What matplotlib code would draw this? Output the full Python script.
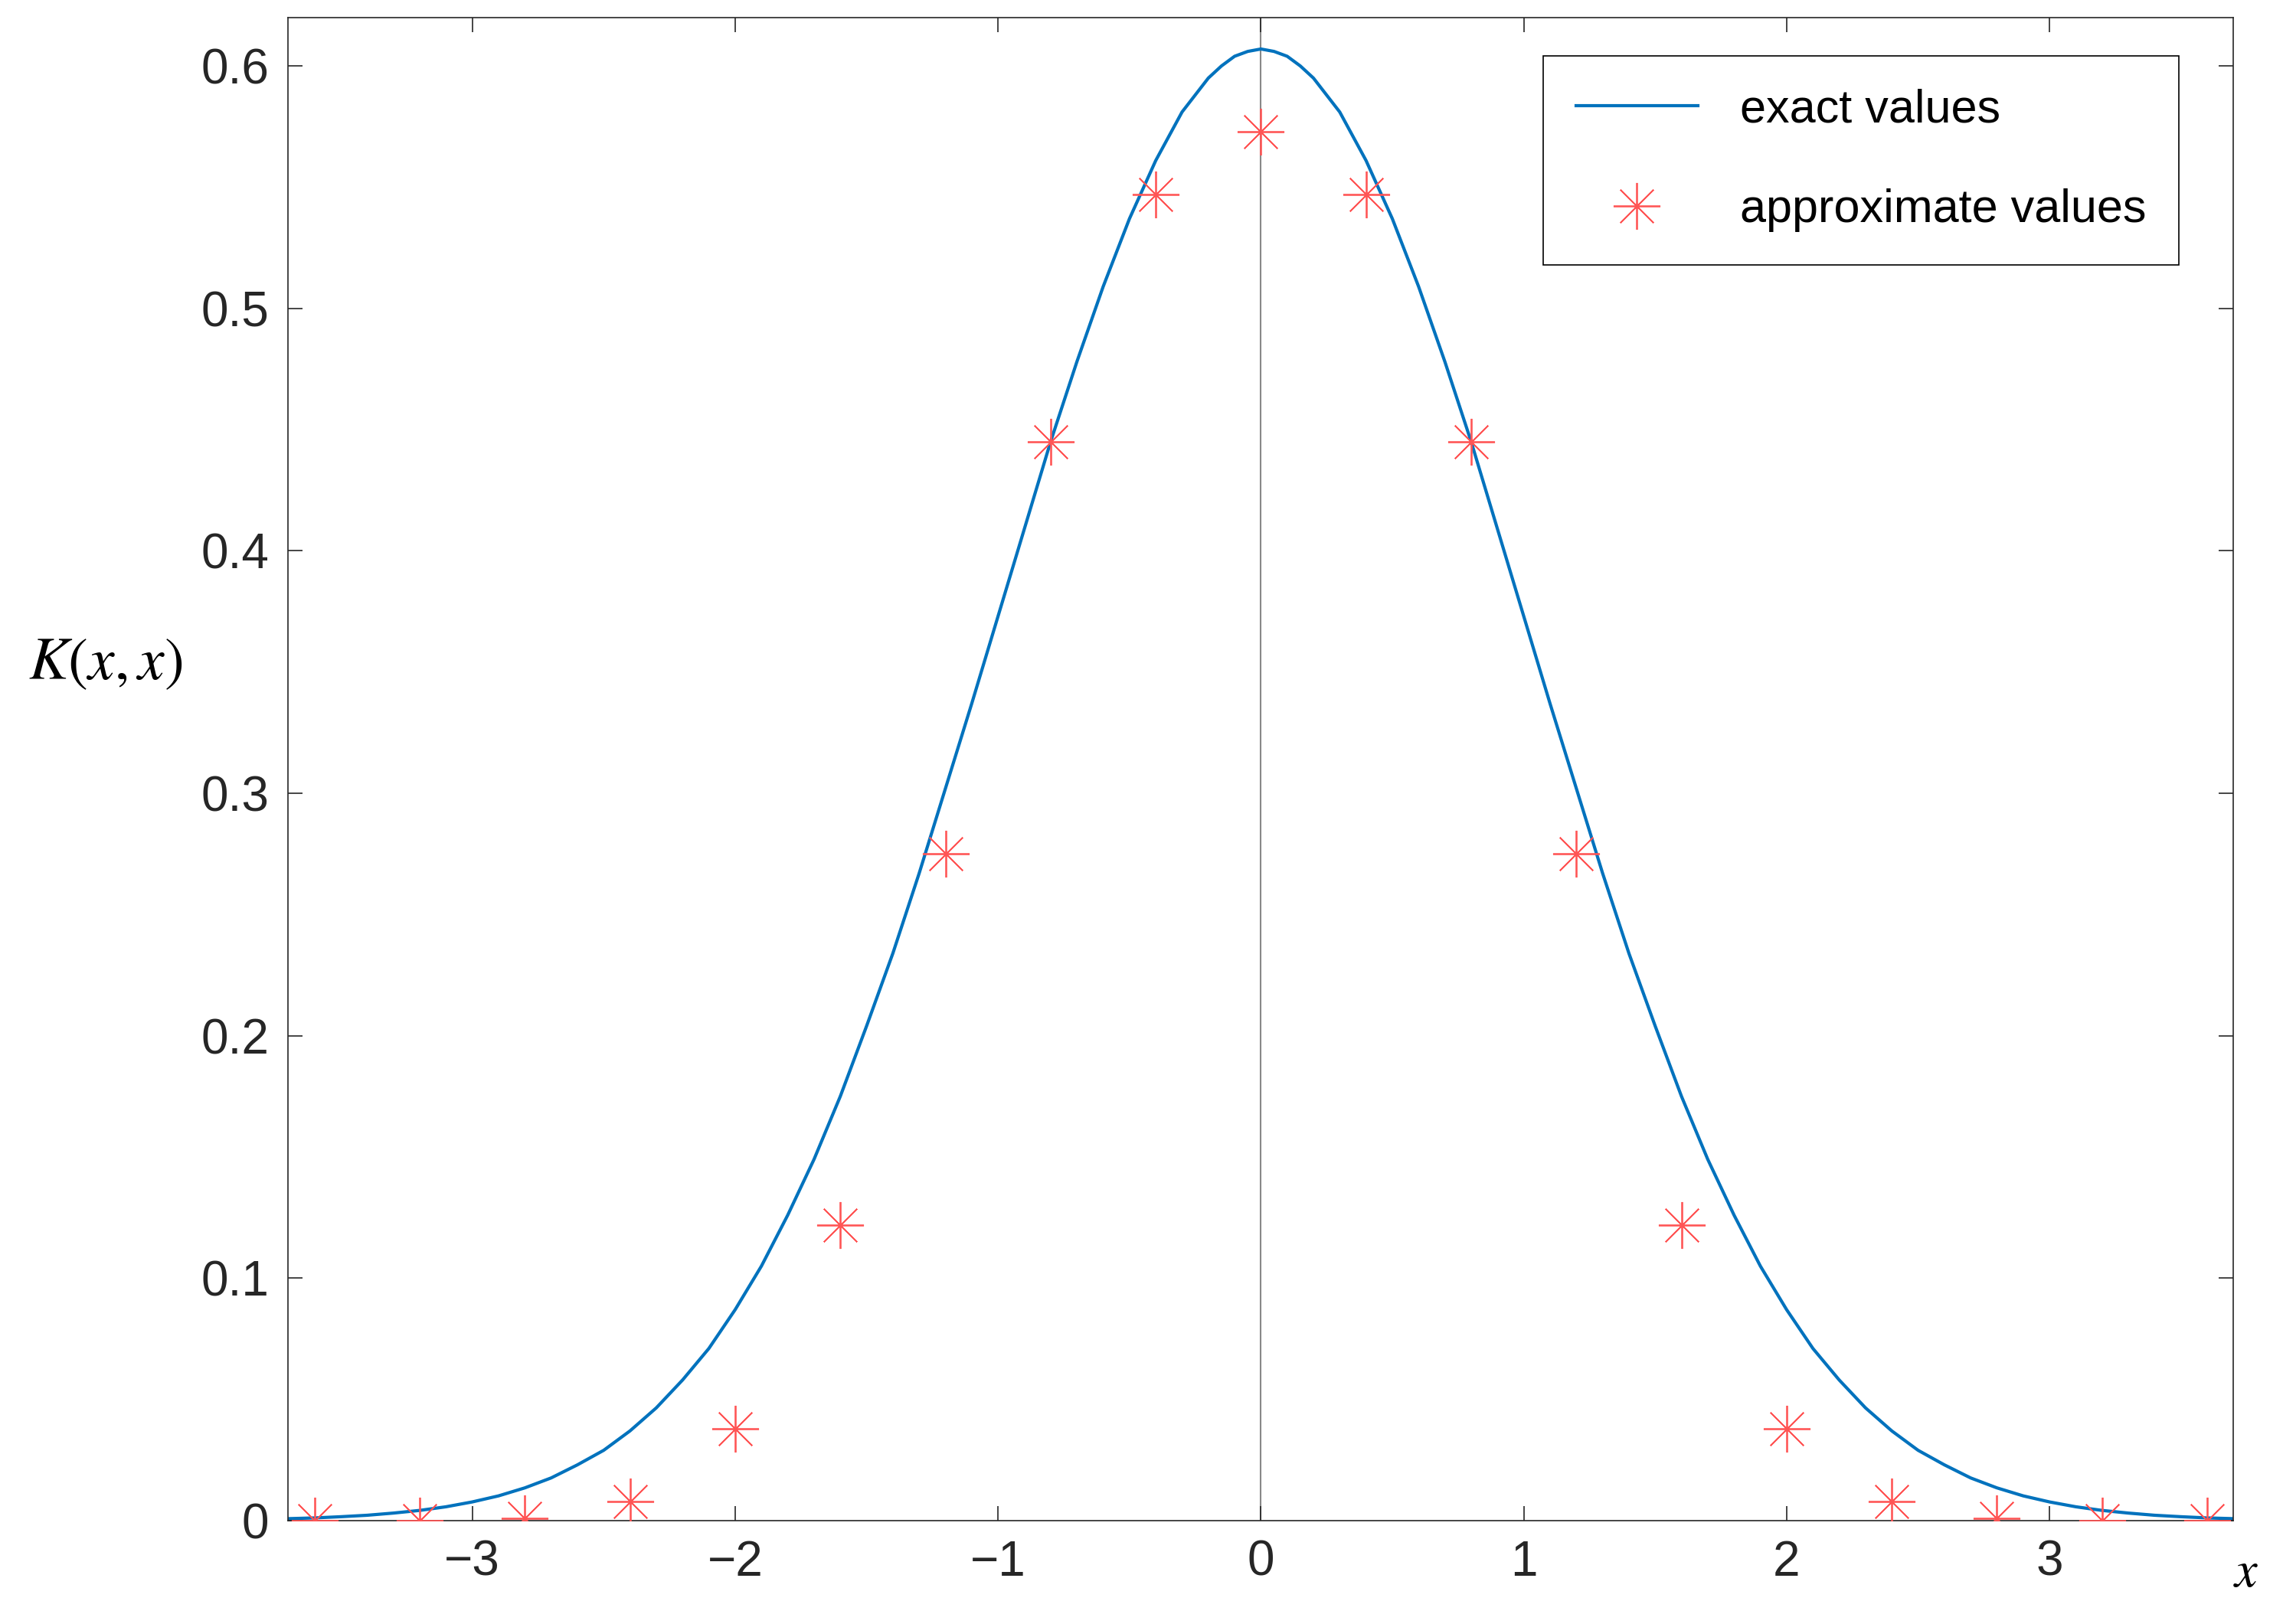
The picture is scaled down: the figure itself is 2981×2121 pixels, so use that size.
import numpy as np
import matplotlib.pyplot as plt

plt.rcParams['font.family'] = ['Liberation Sans', 'DejaVu Sans']
plt.rcParams['mathtext.fontset'] = 'stix'

# exact curve (symmetric about 0)
x_half = [0.0, 0.05, 0.1, 0.15, 0.2, 0.25, 0.3, 0.4, 0.5, 0.6, 0.7, 0.8, 0.9,
          1.0, 1.1, 1.2, 1.3, 1.4, 1.5, 1.6, 1.7, 1.8, 1.9, 2.0, 2.1, 2.2,
          2.3, 2.4, 2.5, 2.6, 2.7, 2.8, 2.9, 3.0, 3.1, 3.2, 3.3, 3.4, 3.5,
          3.6, 3.7]
k_half = [0.607, 0.606, 0.604, 0.600, 0.595, 0.588, 0.581, 0.561, 0.537,
          0.509, 0.478, 0.445, 0.409, 0.373, 0.337, 0.302, 0.267, 0.234,
          0.204, 0.175, 0.149, 0.126, 0.105, 0.087, 0.071, 0.058, 0.0465,
          0.037, 0.029, 0.023, 0.0176, 0.0135, 0.0102, 0.0077, 0.0057,
          0.0042, 0.0031, 0.0022, 0.0016, 0.0011, 0.0008]
x_exact = [-v for v in x_half[:0:-1]] + x_half
k_exact = k_half[:0:-1] + k_half

# approximate values (stars)
x_approx = [-3.6, -3.2, -2.8, -2.4, -2.0, -1.6, -1.2, -0.8, -0.4, 0.0,
            0.4, 0.8, 1.2, 1.6, 2.0, 2.4, 2.8, 3.2, 3.6]
k_approx = [0.0, 0.0, 0.001, 0.008, 0.038, 0.122, 0.275, 0.445, 0.547, 0.573,
            0.547, 0.445, 0.275, 0.122, 0.038, 0.008, 0.001, 0.0, 0.0]

fig = plt.figure(figsize=(29.81, 21.21), dpi=100)
ax = fig.add_axes([198 / 1568, 1 - 1044 / 1115, 1336 / 1568, 1032 / 1115])

ax.axvline(0, color='#888888', lw=1.5, zorder=1)
ax.plot(x_exact, k_exact, color='#0072BD', lw=3, label='exact values', zorder=2)
ax.plot(x_approx, k_approx, ls='none', marker=(8, 2, 0), ms=44, mew=1.3,
        color='#FF5555', label='approximate values', zorder=3)

ax.set_xlim(-3.7, 3.7)
ax.set_ylim(0, 0.62)
ax.set_xticks([-3, -2, -1, 0, 1, 2, 3])
ax.set_xticklabels(['\u22123', '\u22122', '\u22121', '0', '1', '2', '3'])
ax.set_yticks([0, 0.1, 0.2, 0.3, 0.4, 0.5, 0.6])
ax.set_yticklabels(['0', '0.1', '0.2', '0.3', '0.4', '0.5', '0.6'])
ax.tick_params(direction='in', length=14, width=1.2, labelsize=46,
               top=True, right=True, pad=18, colors='#262626')
for s in ax.spines.values():
    s.set_linewidth(1.2)
    s.set_color('#262626')

ax.text(1.0, -0.035, '$x$', transform=ax.transAxes, fontsize=48,
        ha='left', va='center')
ax.text(-0.094, 0.57, '$K(x,x)$', transform=ax.transAxes, fontsize=56,
        ha='center', va='center')

leg = ax.legend(loc='upper right', fontsize=44, fancybox=False, framealpha=1,
                edgecolor='black', borderpad=0.7, labelspacing=1.2,
                handlelength=2.6, handletextpad=0.9,
                bbox_to_anchor=(0.984, 0.99))
leg.get_frame().set_linewidth(1.2)

fig.savefig('out.png', dpi=100)
